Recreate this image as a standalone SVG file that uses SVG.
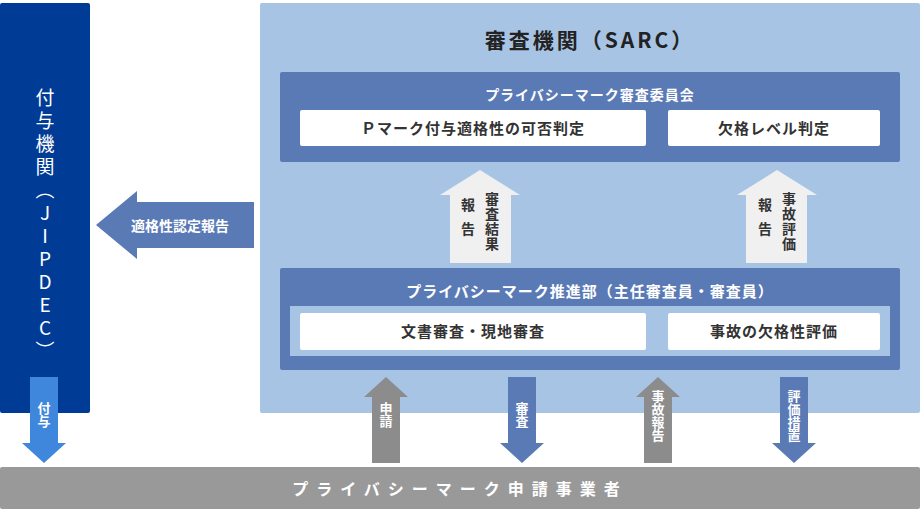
<svg xmlns="http://www.w3.org/2000/svg" width="920" height="510" viewBox="0 0 920 510">
<style>
text{font-family:"Noto Sans CJK JP","Noto Sans",sans-serif;font-weight:bold}
.w{fill:#fff}.d{fill:#333}
.vt{writing-mode:vertical-rl;text-orientation:upright}
</style>
<rect width="920" height="510" fill="#fff"/>
<g id="jipdec">
<rect x="0" y="3" width="90" height="410" rx="2" fill="#003c96"/>
<text class="w vt" x="45" y="88" font-size="19" font-weight="normal" style="font-weight:normal" letter-spacing="4">付与機関（JIPDEC）</text>
</g>
<g id="sarc">
<rect x="260" y="3" width="660" height="410" rx="2" fill="#a8c4e4"/>
<text x="590" y="48" font-size="21" text-anchor="middle" fill="#222" letter-spacing="3">審査機関（SARC）</text>
</g>
<g id="committee">
<rect x="280" y="72" width="620" height="90" rx="2" fill="#5a7ab6"/>
<text class="w" x="590" y="100" font-size="14" text-anchor="middle" letter-spacing="1">プライバシーマーク審査委員会</text>
<rect x="300" y="110" width="346" height="36" rx="2" fill="#fff"/>
<text class="d" x="473" y="134" font-size="15" text-anchor="middle" letter-spacing="1">Ｐマーク付与適格性の可否判定</text>
<rect x="668" y="110" width="212" height="36" rx="2" fill="#fff"/>
<text class="d" x="774" y="134" font-size="15" text-anchor="middle" letter-spacing="1">欠格レベル判定</text>
</g>
<g id="promotion">
<rect x="280" y="268" width="620" height="102" rx="2" fill="#5a7ab6"/>
<text class="w" x="590" y="297" font-size="15" text-anchor="middle" letter-spacing="1">プライバシーマーク推進部（主任審査員・審査員）</text>
<rect x="290" y="306" width="600" height="50" fill="#a8c4e4"/>
<rect x="300" y="313" width="346" height="37" rx="2" fill="#fff"/>
<text class="d" x="473" y="337" font-size="15" text-anchor="middle" letter-spacing="1">文書審査・現地審査</text>
<rect x="668" y="313" width="212" height="37" rx="2" fill="#fff"/>
<text class="d" x="774" y="337" font-size="15" text-anchor="middle" letter-spacing="1">事故の欠格性評価</text>
</g>
<g id="applicant">
<rect x="0" y="467" width="920" height="42" rx="2" fill="#999"/>
<text class="w" x="460" y="495" font-size="16" text-anchor="middle" letter-spacing="8">プライバシーマーク申請事業者</text>
</g>
<g id="connectors">
<polygon points="480,170 520,195 511,195 511,263 450,263 450,195 440,195" fill="#f0f0f0"/>
<text class="d vt" x="492" y="192" font-size="14" letter-spacing="1">審査結果</text>
<text class="d vt" x="468" y="198" font-size="14" letter-spacing="10">報告</text>
<polygon points="777,170 817,195 807,195 807,263 746,263 746,195 737,195" fill="#f0f0f0"/>
<text class="d vt" x="789" y="192" font-size="14" letter-spacing="1">事故評価</text>
<text class="d vt" x="765" y="198" font-size="14" letter-spacing="10">報告</text>
<polygon points="96,225 137,191 137,202 254,202 254,248 137,248 137,259" fill="#5a7ab6"/>
<text class="w" x="180" y="231" font-size="14" text-anchor="middle">適格性認定報告</text>
<polygon points="30,377 58,377 58,443 66,443 44,463 22,443 30,443" fill="#3f87dc"/>
<text class="w vt" x="44" y="402" font-size="13">付与</text>
<polygon points="386,377 408,397 400,397 400,463 372,463 372,397 364,397" fill="#8c8c8c"/>
<text class="w vt" x="386" y="402" font-size="13">申請</text>
<polygon points="508,377 536,377 536,443 544,443 522,463 500,443 508,443" fill="#5a7ab6"/>
<text class="w vt" x="522" y="402" font-size="13">審査</text>
<polygon points="658,377 680,397 672,397 672,463 644,463 644,397 636,397" fill="#8c8c8c"/>
<text class="w vt" x="658" y="390" font-size="13">事故報告</text>
<polygon points="780,377 808,377 808,443 816,443 794,463 772,443 780,443" fill="#5a7ab6"/>
<text class="w vt" x="794" y="390" font-size="13">評価措置</text>
</g>
</svg>
